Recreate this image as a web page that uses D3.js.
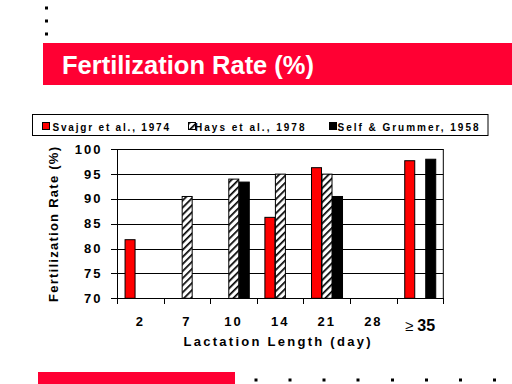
<!DOCTYPE html>
<html>
<head>
<meta charset="utf-8">
<script src="https://cdn.jsdelivr.net/npm/d3@7"></script>
<style>
  html, body { margin: 0; padding: 0; background: #fff; }
  svg { display: block; font-family: "Liberation Sans", Arial, sans-serif; }
</style>
</head>
<body>
<svg id="chart" width="512" height="384"></svg>
<script>
// chart data
const categories = ["2", "7", "10", "14", "21", "28", "\u2265 35"];
const seriesNames = ["Svajgr et al., 1974", "Hays et al., 1978", "Self & Grummer, 1958"];
const svajgr = [81.8, null, null, 86.3, 96.3, null, 97.7];
const hays = [null, 90.5, 94.0, 95.0, 95.0, null, null];
const selfGrummer = [null, null, 93.4, null, 90.5, null, 98.0];
const yTicks = [70, 75, 80, 85, 90, 95, 100];

const seriesValues = [svajgr, hays, selfGrummer];
const RED = "#ff0000",
    BANNER = "#ff0033";

const svg = d3.select("#chart");
const defs = svg.append("defs");

defs.append("pattern")
    .attr("id", "hatch")
    .attr("patternUnits", "userSpaceOnUse")
    .attr("width", 5)
    .attr("height", 5)
    .attr("patternTransform", "rotate(45)")
    .call((p) => {
        p.append("rect").attr("width", 5).attr("height", 5).attr("fill", "#fff");
        p.append("line")
            .attr("x1", 0).attr("y1", 0)
            .attr("x2", 0).attr("y2", 5)
            .attr("stroke", "#000")
            .attr("stroke-width", 3.4);
    });

const fills = [RED, "url(#hatch)", "#000"];

// slide decoration
[8, 21, 34].forEach((y) => {
    svg.append("rect").attr("x", 45).attr("y", y - 1.5).attr("width", 3).attr("height", 3).attr("fill", "#000");
});
svg.append("rect").attr("x", 43).attr("y", 43).attr("width", 469).attr("height", 42).attr("fill", BANNER);
svg.append("text")
    .attr("x", 62).attr("y", 74)
    .attr("fill", "#fff")
    .attr("font-size", 26)
    .attr("font-weight", "bold")
    .attr("textLength", 252)
    .attr("lengthAdjust", "spacingAndGlyphs")
    .text("Fertilization Rate (%)");

svg.append("rect").attr("x", 38).attr("y", 372).attr("width", 197).attr("height", 12).attr("fill", BANNER);
[256, 290, 324, 358, 392.5, 426.5, 460.5, 494.5].forEach((x) => {
    svg.append("rect").attr("x", x - 1.5).attr("y", 378.5).attr("width", 3).attr("height", 3).attr("fill", "#000");
});

// legend
const legend = svg.append("g");
legend.append("rect")
    .attr("x", 32.5).attr("y", 114.5)
    .attr("width", 455.5).attr("height", 21)
    .attr("fill", "#fff").attr("stroke", "#000");
const legendItems = [
    {x: 42, tx: 52.5, w: 116.5},
    {x: 188, tx: 195, w: 109.5},
    {x: 329, tx: 337.5, w: 141}
];
legendItems.forEach((it, i) => {
    legend.append("rect")
        .attr("x", it.x + 0.5).attr("y", 122.5)
        .attr("width", 7).attr("height", 7)
        .attr("fill", fills[i]).attr("stroke", "#000");
    legend.append("text")
        .attr("x", it.tx).attr("y", 130.5)
        .attr("font-size", 10)
        .attr("font-weight", "bold")
        .attr("textLength", it.w)
        .attr("lengthAdjust", "spacing")
        .text(seriesNames[i]);
});

// plot
const plot = {left: 117, right: 443.3, top: 149.3, bottom: 298.3};

const x0 = d3.scaleBand()
    .domain(categories)
    .range([plot.left, plot.right])
    .padding(0);
const groupW = 31.5;
const x1 = d3.scaleBand()
    .domain(d3.range(seriesNames.length))
    .range([(x0.bandwidth() - groupW) / 2, (x0.bandwidth() + groupW) / 2]);
const y = d3.scaleLinear().domain([70, 100]).range([plot.bottom, plot.top]);

const g = svg.append("g");

// gridlines
g.selectAll(".grid")
    .data(yTicks)
    .enter()
    .append("line")
    .attr("x1", plot.left - 6)
    .attr("x2", plot.right)
    .attr("y1", (d) => Math.round(y(d)) + 0.5)
    .attr("y2", (d) => Math.round(y(d)) + 0.5)
    .attr("stroke", "#000");

// bars
seriesValues.forEach((vals, si) => {
    g.selectAll(".bar" + si)
        .data(vals.map((v, i) => ({v, c: categories[i]})).filter((d) => d.v !== null))
        .enter()
        .append("rect")
        .attr("x", (d) => x0(d.c) + x1(si) + 0.5)
        .attr("y", (d) => y(d.v))
        .attr("width", x1.bandwidth() - 0.5)
        .attr("height", (d) => y(70) - y(d.v))
        .attr("fill", fills[si])
        .attr("stroke", "#000")
        .attr("stroke-width", 1);
});

// frame
g.append("rect")
    .attr("x", plot.left + 0.5).attr("y", Math.round(plot.top) + 0.5)
    .attr("width", plot.right - plot.left - 0.5)
    .attr("height", Math.round(plot.bottom) - Math.round(plot.top))
    .attr("fill", "none").attr("stroke", "#000");

// x ticks at band edges
const edges = categories.map((c) => x0(c)).concat([plot.right]);
g.selectAll(".xtick")
    .data(edges)
    .enter()
    .append("line")
    .attr("x1", (d) => Math.round(d) + 0.5)
    .attr("x2", (d) => Math.round(d) + 0.5)
    .attr("y1", Math.round(plot.bottom))
    .attr("y2", Math.round(plot.bottom) + 6)
    .attr("stroke", "#000");

// y labels
g.selectAll(".ylab")
    .data(yTicks)
    .enter()
    .append("text")
    .attr("x", 100.5)
    .attr("y", (d) => y(d) + 4.5)
    .attr("text-anchor", "end")
    .attr("font-size", 13)
    .attr("font-weight", "bold")
    .attr("letter-spacing", 2)
    .attr("dx", 2)
    .text((d) => d);

// x labels; the last one mixes a thin symbol with bigger digits
const xlab = g.selectAll(".xlab")
    .data(categories)
    .enter()
    .append("text")
    .attr("x", (d) => x0(d) + x0.bandwidth() / 2)
    .attr("y", (d) => d.startsWith("\u2265") ? 330.5 : 325.5)
    .attr("text-anchor", "middle")
    .attr("font-weight", "bold");

xlab.filter((d) => !d.startsWith("\u2265"))
    .attr("font-size", 13)
    .attr("letter-spacing", 2)
    .text((d) => d);

xlab.filter((d) => d.startsWith("\u2265"))
    .attr("font-size", 16)
    .call((t) => {
        t.append("tspan").attr("font-weight", "normal").attr("font-size", 15).text((d) => d.split(" ")[0] + " ");
        t.append("tspan").text((d) => d.split(" ")[1]);
    });

// axis titles
svg.append("text")
    .attr("x", 277).attr("y", 345.5)
    .attr("text-anchor", "middle")
    .attr("font-size", 13)
    .attr("font-weight", "bold")
    .attr("textLength", 187)
    .attr("lengthAdjust", "spacing")
    .text("Lactation Length (day)");

svg.append("text")
    .attr("transform", "translate(57.5,224.5) rotate(-90)")
    .attr("text-anchor", "middle")
    .attr("font-size", 13)
    .attr("font-weight", "bold")
    .attr("textLength", 155)
    .attr("lengthAdjust", "spacing")
    .text("Fertilization Rate (%)");
</script>
</body>
</html>
